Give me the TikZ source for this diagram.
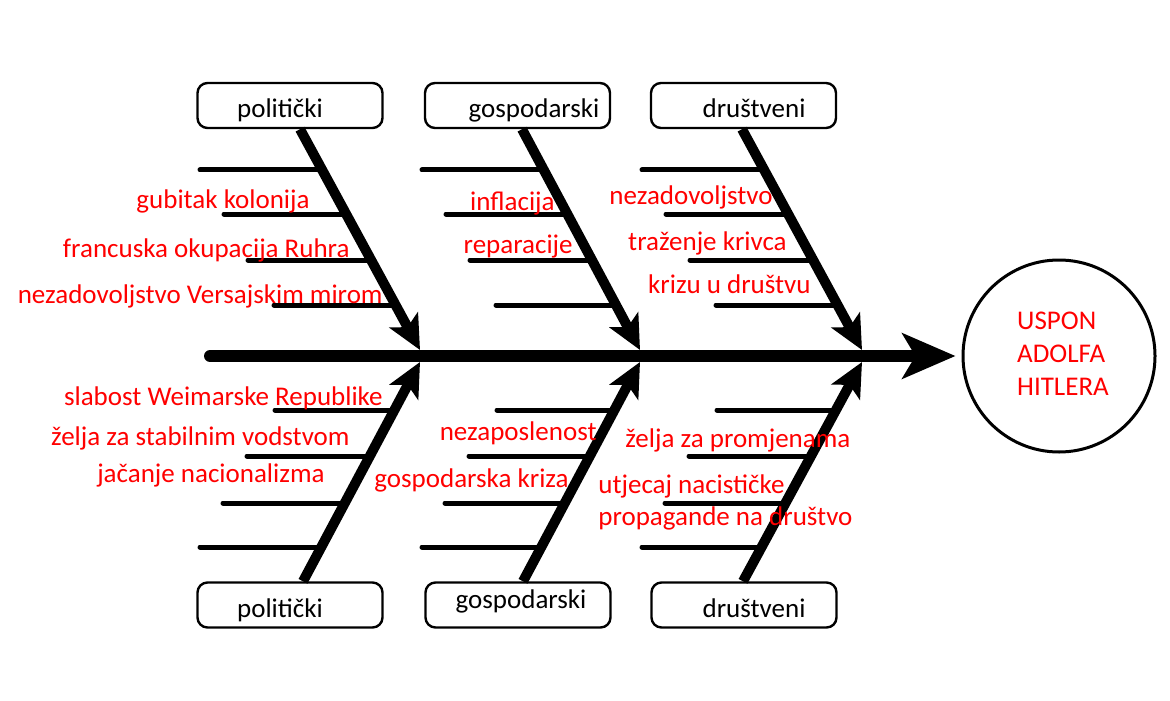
\documentclass[tikz,border=0pt]{standalone}
\usepackage{fontspec}
\setmainfont{Carlito}
\usetikzlibrary{arrows.meta,shapes.geometric}

\begin{document}
\begin{tikzpicture}[x=0.5pt, y=-0.5pt,
    box/.style={draw, rounded corners=5pt, line width=1.2pt, minimum width=92.5pt,
                minimum height=22.5pt, inner sep=0pt},
    cat/.style={font=\fontsize{13.5}{16}\selectfont, anchor=base, inner sep=0pt},
    cause/.style={font=\fontsize{13.5}{16}\selectfont, text=red, inner sep=0pt},
    rib/.style={line width=2.5pt, line cap=round},
    bone/.style={line width=5pt, -{Stealth[length=17pt,width=16pt,inset=4pt]}},
    spine/.style={line width=6pt, line cap=round,
                  -{Stealth[length=26.5pt,width=22.5pt,inset=6.5pt]}}]
  \useasboundingbox (0,0) rectangle (1170,700);

  \node[box] (pt) at (290,105.5) {};
  \node[box] (gt) at (517.5,105.5) {};
  \node[box] (dt) at (743.5,105.5) {};
  \node[box] (pb) at (290,605) {};
  \node[box] (gb) at (518,605) {};
  \node[box] (db) at (744,605) {};

  \node[cat] (ptl) at (280,118) {politički};
  \node[cat] (gtl) at (534,118) {gospodarski};
  \node[cat] (dtl) at (754,118) {društveni};
  \node[cat] (pbl) at (280,617) {politički};
  \node[cat] (gbl) at (521,608) {gospodarski};
  \node[cat] (dbl) at (754,617) {društveni};

  \node[draw, circle, line width=1.5pt, minimum size=96pt, inner sep=0pt, align=left,
        text=red, font=\fontsize{13.5}{16.5}\selectfont] (res) at (1059,356)
        {\raisebox{2.5pt}{\hspace*{4pt}\begin{tabular}{@{}l@{}}USPON\\ADOLFA\\HITLERA\end{tabular}}};

  \coordinate (tail) at (210,356);
  \coordinate (t1) at (420,350);
  \coordinate (t2) at (640,350);
  \coordinate (t3) at (862,350);
  \coordinate (b1) at (420,362);
  \coordinate (b2) at (640,362);
  \coordinate (b3) at (862,362);

  \foreach \s in {300,522,742}{
    \foreach \l/\r/\y in {100/23/170, 76/46/214, 52/71/260, 26/96/305,
                          100/19/547, 77/42/503, 53/67/456, 25/92/410}
      \draw[rib] ({\s-\l},\y) -- ({\s+\r},\y);
  }

  \draw[bone] (pt.south -| 300,0) -- (t1);
  \draw[bone] (gt.south -| 522,0) -- (t2);
  \draw[bone] (dt.south -| 742,0) -- (t3);
  \draw[bone] (pb.north -| 303,0) -- (b1);
  \draw[bone] (gb.north -| 523,0) -- (b2);
  \draw[bone] (db.north -| 743,0) -- (b3);

  \draw[spine, shorten >=3pt] (tail) -- (res);

  \node[cause, anchor=base east] (c1) at (310,208) {gubitak kolonija};
  \node[cause, anchor=base east] (c2) at (350,257) {francuska okupacija Ruhra};
  \node[cause, anchor=base east] (c3) at (383,303) {nezadovoljstvo Versajskim mirom};
  \node[cause, anchor=base east] (c4) at (555,210) {inflacija};
  \node[cause, anchor=base east] (c5) at (573,253) {reparacije};
  \node[cause, anchor=base east] (c6) at (773,205) {nezadovoljstvo};
  \node[cause, anchor=base east] (c7) at (787,250) {traženje krivca};
  \node[cause, anchor=base east] (c8) at (811,293) {krizu u društvu};

  \node[cause, anchor=base east] (c9) at (383,405) {slabost Weimarske Republike};
  \node[cause, anchor=base east] (c10) at (350,445) {želja za stabilnim vodstvom};
  \node[cause, anchor=base east] (c11) at (325,482) {jačanje nacionalizma};
  \node[cause, anchor=base east] (c12) at (597,440) {nezaposlenost};
  \node[cause, anchor=base east] (c13) at (569,487) {gospodarska kriza};
  \node[cause, anchor=base west] (c14) at (625,447) {želja za promjenama};
  \node[cause, anchor=base west, align=left] (c15) at (598,525)
        {utjecaj nacističke\\propagande na društvo};
\end{tikzpicture}
\end{document}
